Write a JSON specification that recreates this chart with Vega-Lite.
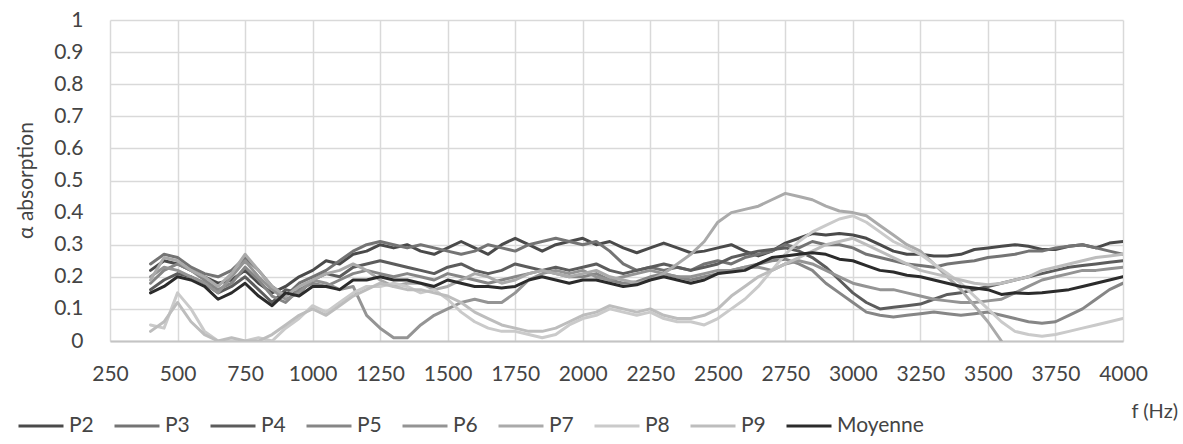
{
  "$schema": "https://vega.github.io/schema/vega-lite/v6.json",
  "width": 1013,
  "height": 321,
  "autosize": {"type": "none"},
  "padding": {"left": 110, "top": 20, "right": 60, "bottom": 103},
  "background": "white",
  "config": {"view": {"stroke": null}, "font": "Lato"},
  "data": {"values": [
    {"f":400,"Moyenne":0.15,"P2":0.22,"P3":0.24,"P4":0.16,"P5":0.18,"P6":0.20,"P7":0.19,"P8":0.05,"P9":0.03},
    {"f":450,"Moyenne":0.17,"P2":0.25,"P3":0.27,"P4":0.19,"P5":0.22,"P6":0.23,"P7":0.26,"P8":0.04,"P9":0.06},
    {"f":500,"Moyenne":0.20,"P2":0.24,"P3":0.26,"P4":0.21,"P5":0.24,"P6":0.22,"P7":0.25,"P8":0.15,"P9":0.12},
    {"f":550,"Moyenne":0.19,"P2":0.22,"P3":0.23,"P4":0.20,"P5":0.22,"P6":0.20,"P7":0.22,"P8":0.10,"P9":0.06},
    {"f":600,"Moyenne":0.17,"P2":0.20,"P3":0.21,"P4":0.18,"P5":0.19,"P6":0.18,"P7":0.20,"P8":0.03,"P9":0.02},
    {"f":650,"Moyenne":0.13,"P2":0.18,"P3":0.20,"P4":0.15,"P5":0.16,"P6":0.15,"P7":0.17,"P8":0.0,"P9":0.0},
    {"f":700,"Moyenne":0.15,"P2":0.19,"P3":0.22,"P4":0.17,"P5":0.18,"P6":0.20,"P7":0.21,"P8":0.0,"P9":0.01},
    {"f":750,"Moyenne":0.18,"P2":0.22,"P3":0.26,"P4":0.20,"P5":0.23,"P6":0.25,"P7":0.27,"P8":0.0,"P9":0.0},
    {"f":800,"Moyenne":0.14,"P2":0.18,"P3":0.22,"P4":0.16,"P5":0.19,"P6":0.20,"P7":0.22,"P8":0.01,"P9":0.0},
    {"f":850,"Moyenne":0.11,"P2":0.15,"P3":0.17,"P4":0.12,"P5":0.14,"P6":0.16,"P7":0.17,"P8":0.0,"P9":0.02},
    {"f":900,"Moyenne":0.15,"P2":0.17,"P3":0.14,"P4":0.16,"P5":0.12,"P6":0.13,"P7":0.14,"P8":0.04,"P9":0.05},
    {"f":950,"Moyenne":0.14,"P2":0.20,"P3":0.18,"P4":0.15,"P5":0.16,"P6":0.15,"P7":0.17,"P8":0.07,"P9":0.08},
    {"f":1000,"Moyenne":0.17,"P2":0.22,"P3":0.20,"P4":0.19,"P5":0.18,"P6":0.19,"P7":0.19,"P8":0.11,"P9":0.10},
    {"f":1050,"Moyenne":0.17,"P2":0.25,"P3":0.22,"P4":0.21,"P5":0.17,"P6":0.18,"P7":0.21,"P8":0.09,"P9":0.08},
    {"f":1100,"Moyenne":0.16,"P2":0.24,"P3":0.25,"P4":0.20,"P5":0.19,"P6":0.16,"P7":0.22,"P8":0.12,"P9":0.11},
    {"f":1150,"Moyenne":0.19,"P2":0.27,"P3":0.28,"P4":0.23,"P5":0.21,"P6":0.17,"P7":0.24,"P8":0.15,"P9":0.14},
    {"f":1200,"Moyenne":0.19,"P2":0.28,"P3":0.30,"P4":0.24,"P5":0.22,"P6":0.08,"P7":0.22,"P8":0.17,"P9":0.16},
    {"f":1250,"Moyenne":0.20,"P2":0.30,"P3":0.31,"P4":0.25,"P5":0.21,"P6":0.04,"P7":0.19,"P8":0.17,"P9":0.18},
    {"f":1300,"Moyenne":0.19,"P2":0.29,"P3":0.30,"P4":0.24,"P5":0.20,"P6":0.01,"P7":0.17,"P8":0.18,"P9":0.17},
    {"f":1350,"Moyenne":0.19,"P2":0.30,"P3":0.29,"P4":0.23,"P5":0.21,"P6":0.01,"P7":0.18,"P8":0.17,"P9":0.16},
    {"f":1400,"Moyenne":0.18,"P2":0.28,"P3":0.30,"P4":0.22,"P5":0.20,"P6":0.05,"P7":0.18,"P8":0.15,"P9":0.16},
    {"f":1450,"Moyenne":0.17,"P2":0.27,"P3":0.29,"P4":0.21,"P5":0.19,"P6":0.08,"P7":0.16,"P8":0.16,"P9":0.15},
    {"f":1500,"Moyenne":0.19,"P2":0.29,"P3":0.28,"P4":0.23,"P5":0.21,"P6":0.10,"P7":0.17,"P8":0.13,"P9":0.14},
    {"f":1550,"Moyenne":0.18,"P2":0.31,"P3":0.27,"P4":0.24,"P5":0.20,"P6":0.12,"P7":0.19,"P8":0.09,"P9":0.12},
    {"f":1600,"Moyenne":0.17,"P2":0.29,"P3":0.28,"P4":0.22,"P5":0.19,"P6":0.13,"P7":0.21,"P8":0.06,"P9":0.09},
    {"f":1650,"Moyenne":0.17,"P2":0.27,"P3":0.30,"P4":0.21,"P5":0.18,"P6":0.12,"P7":0.20,"P8":0.04,"P9":0.07},
    {"f":1700,"Moyenne":0.165,"P2":0.30,"P3":0.29,"P4":0.22,"P5":0.19,"P6":0.12,"P7":0.18,"P8":0.03,"P9":0.05},
    {"f":1750,"Moyenne":0.17,"P2":0.32,"P3":0.28,"P4":0.24,"P5":0.20,"P6":0.15,"P7":0.19,"P8":0.03,"P9":0.04},
    {"f":1800,"Moyenne":0.19,"P2":0.30,"P3":0.30,"P4":0.23,"P5":0.21,"P6":0.19,"P7":0.21,"P8":0.02,"P9":0.03},
    {"f":1850,"Moyenne":0.20,"P2":0.28,"P3":0.31,"P4":0.22,"P5":0.22,"P6":0.21,"P7":0.22,"P8":0.01,"P9":0.03},
    {"f":1900,"Moyenne":0.19,"P2":0.30,"P3":0.32,"P4":0.23,"P5":0.21,"P6":0.22,"P7":0.21,"P8":0.02,"P9":0.04},
    {"f":1950,"Moyenne":0.18,"P2":0.31,"P3":0.31,"P4":0.22,"P5":0.20,"P6":0.21,"P7":0.20,"P8":0.05,"P9":0.06},
    {"f":2000,"Moyenne":0.19,"P2":0.32,"P3":0.30,"P4":0.23,"P5":0.20,"P6":0.22,"P7":0.21,"P8":0.07,"P9":0.08},
    {"f":2050,"Moyenne":0.19,"P2":0.30,"P3":0.31,"P4":0.24,"P5":0.21,"P6":0.20,"P7":0.22,"P8":0.08,"P9":0.09},
    {"f":2100,"Moyenne":0.18,"P2":0.31,"P3":0.28,"P4":0.22,"P5":0.19,"P6":0.19,"P7":0.20,"P8":0.10,"P9":0.11},
    {"f":2150,"Moyenne":0.17,"P2":0.29,"P3":0.24,"P4":0.21,"P5":0.18,"P6":0.20,"P7":0.19,"P8":0.09,"P9":0.10},
    {"f":2200,"Moyenne":0.175,"P2":0.275,"P3":0.22,"P4":0.22,"P5":0.185,"P6":0.21,"P7":0.18,"P8":0.08,"P9":0.09},
    {"f":2250,"Moyenne":0.19,"P2":0.29,"P3":0.23,"P4":0.23,"P5":0.20,"P6":0.22,"P7":0.19,"P8":0.09,"P9":0.10},
    {"f":2300,"Moyenne":0.20,"P2":0.305,"P3":0.22,"P4":0.24,"P5":0.21,"P6":0.21,"P7":0.21,"P8":0.07,"P9":0.08},
    {"f":2350,"Moyenne":0.19,"P2":0.29,"P3":0.23,"P4":0.23,"P5":0.20,"P6":0.20,"P7":0.24,"P8":0.06,"P9":0.07},
    {"f":2400,"Moyenne":0.18,"P2":0.275,"P3":0.22,"P4":0.22,"P5":0.19,"P6":0.20,"P7":0.27,"P8":0.06,"P9":0.07},
    {"f":2450,"Moyenne":0.19,"P2":0.28,"P3":0.24,"P4":0.23,"P5":0.20,"P6":0.21,"P7":0.31,"P8":0.05,"P9":0.08},
    {"f":2500,"Moyenne":0.21,"P2":0.29,"P3":0.25,"P4":0.24,"P5":0.21,"P6":0.22,"P7":0.37,"P8":0.07,"P9":0.10},
    {"f":2550,"Moyenne":0.215,"P2":0.30,"P3":0.24,"P4":0.26,"P5":0.22,"P6":0.22,"P7":0.40,"P8":0.10,"P9":0.14},
    {"f":2600,"Moyenne":0.22,"P2":0.28,"P3":0.26,"P4":0.27,"P5":0.23,"P6":0.23,"P7":0.41,"P8":0.13,"P9":0.17},
    {"f":2650,"Moyenne":0.24,"P2":0.265,"P3":0.27,"P4":0.28,"P5":0.24,"P6":0.23,"P7":0.42,"P8":0.17,"P9":0.20},
    {"f":2700,"Moyenne":0.26,"P2":0.28,"P3":0.28,"P4":0.285,"P5":0.25,"P6":0.22,"P7":0.44,"P8":0.22,"P9":0.22},
    {"f":2750,"Moyenne":0.265,"P2":0.305,"P3":0.30,"P4":0.29,"P5":0.255,"P6":0.24,"P7":0.46,"P8":0.27,"P9":0.24},
    {"f":2800,"Moyenne":0.27,"P2":0.32,"P3":0.29,"P4":0.28,"P5":0.24,"P6":0.25,"P7":0.45,"P8":0.31,"P9":0.26},
    {"f":2850,"Moyenne":0.275,"P2":0.335,"P3":0.31,"P4":0.26,"P5":0.22,"P6":0.24,"P7":0.44,"P8":0.34,"P9":0.28},
    {"f":2900,"Moyenne":0.27,"P2":0.33,"P3":0.30,"P4":0.23,"P5":0.18,"P6":0.22,"P7":0.42,"P8":0.36,"P9":0.30},
    {"f":2950,"Moyenne":0.255,"P2":0.335,"P3":0.30,"P4":0.19,"P5":0.15,"P6":0.20,"P7":0.405,"P8":0.38,"P9":0.31},
    {"f":3000,"Moyenne":0.25,"P2":0.33,"P3":0.29,"P4":0.15,"P5":0.12,"P6":0.18,"P7":0.40,"P8":0.39,"P9":0.32},
    {"f":3050,"Moyenne":0.235,"P2":0.32,"P3":0.27,"P4":0.12,"P5":0.09,"P6":0.17,"P7":0.39,"P8":0.37,"P9":0.30},
    {"f":3100,"Moyenne":0.22,"P2":0.30,"P3":0.26,"P4":0.10,"P5":0.08,"P6":0.16,"P7":0.36,"P8":0.34,"P9":0.28},
    {"f":3150,"Moyenne":0.215,"P2":0.28,"P3":0.25,"P4":0.105,"P5":0.075,"P6":0.16,"P7":0.33,"P8":0.31,"P9":0.26},
    {"f":3200,"Moyenne":0.205,"P2":0.27,"P3":0.24,"P4":0.11,"P5":0.08,"P6":0.15,"P7":0.30,"P8":0.29,"P9":0.24},
    {"f":3250,"Moyenne":0.20,"P2":0.27,"P3":0.235,"P4":0.115,"P5":0.085,"P6":0.14,"P7":0.28,"P8":0.27,"P9":0.22},
    {"f":3300,"Moyenne":0.19,"P2":0.265,"P3":0.23,"P4":0.13,"P5":0.09,"P6":0.13,"P7":0.24,"P8":0.24,"P9":0.21},
    {"f":3350,"Moyenne":0.18,"P2":0.265,"P3":0.24,"P4":0.145,"P5":0.085,"P6":0.125,"P7":0.20,"P8":0.21,"P9":0.20},
    {"f":3400,"Moyenne":0.17,"P2":0.27,"P3":0.245,"P4":0.15,"P5":0.08,"P6":0.12,"P7":0.16,"P8":0.18,"P9":0.19},
    {"f":3450,"Moyenne":0.165,"P2":0.285,"P3":0.25,"P4":0.16,"P5":0.085,"P6":0.12,"P7":0.11,"P8":0.14,"P9":0.18},
    {"f":3500,"Moyenne":0.16,"P2":0.29,"P3":0.26,"P4":0.17,"P5":0.09,"P6":0.125,"P7":0.06,"P8":0.10,"P9":0.175},
    {"f":3550,"Moyenne":0.145,"P2":0.295,"P3":0.265,"P4":0.18,"P5":0.08,"P6":0.13,"P7":0.0,"P8":0.06,"P9":0.18},
    {"f":3600,"Moyenne":0.15,"P2":0.30,"P3":0.27,"P4":0.19,"P5":0.07,"P6":0.15,"P8":0.03,"P9":0.19},
    {"f":3650,"Moyenne":0.148,"P2":0.295,"P3":0.28,"P4":0.20,"P5":0.06,"P6":0.17,"P8":0.02,"P9":0.20},
    {"f":3700,"Moyenne":0.15,"P2":0.285,"P3":0.28,"P4":0.21,"P5":0.055,"P6":0.19,"P8":0.015,"P9":0.22},
    {"f":3750,"Moyenne":0.155,"P2":0.285,"P3":0.29,"P4":0.22,"P5":0.06,"P6":0.20,"P8":0.02,"P9":0.23},
    {"f":3800,"Moyenne":0.16,"P2":0.295,"P3":0.295,"P4":0.23,"P5":0.08,"P6":0.21,"P8":0.03,"P9":0.24},
    {"f":3850,"Moyenne":0.17,"P2":0.30,"P3":0.30,"P4":0.235,"P5":0.10,"P6":0.22,"P8":0.04,"P9":0.25},
    {"f":3900,"Moyenne":0.18,"P2":0.29,"P3":0.29,"P4":0.24,"P5":0.13,"P6":0.22,"P8":0.05,"P9":0.26},
    {"f":3950,"Moyenne":0.19,"P2":0.305,"P3":0.28,"P4":0.245,"P5":0.16,"P6":0.225,"P8":0.06,"P9":0.265},
    {"f":4000,"Moyenne":0.20,"P2":0.31,"P3":0.27,"P4":0.25,"P5":0.18,"P6":0.23,"P8":0.07,"P9":0.27}
  ]},
  "transform": [
    {"fold": ["P2","P3","P4","P5","P6","P7","P8","P9","Moyenne"], "as": ["serie","alpha"]}
  ],
  "mark": {"type": "line", "clip": true, "strokeJoin": "round", "strokeCap": "round"},
  "encoding": {
    "x": {
      "field": "f", "type": "quantitative",
      "scale": {"domain": [250, 4000], "nice": false, "zero": false},
      "axis": {
        "values": [250,500,750,1000,1250,1500,1750,2000,2250,2500,2750,3000,3250,3500,3750,4000],
        "format": "d",
        "grid": true, "gridColor": "#d9d9d9", "gridWidth": 1.5,
        "domainColor": "#c4c4c4", "domainWidth": 2, "ticks": false,
        "labelFont": "Lato", "labelFontSize": 21, "labelColor": "#444444", "labelPadding": 22,
        "labelFlush": false, "labelOverlap": false,
        "title": "f (Hz)", "titleFont": "Lato", "titleFontSize": 20, "titleFontWeight": "normal",
        "titleColor": "#444444", "titleX": 1021, "titleY": 70, "titleAlign": "left", "titleBaseline": "middle", "titleAnchor": null
      }
    },
    "y": {
      "field": "alpha", "type": "quantitative",
      "scale": {"domain": [0, 1], "nice": false},
      "axis": {
        "values": [0,0.1,0.2,0.3,0.4,0.5,0.6,0.7,0.8,0.9,1],
        "format": ".1~f",
        "grid": true, "gridColor": "#d9d9d9", "gridWidth": 1.5,
        "domain": false, "ticks": false,
        "labelFont": "Lato", "labelFontSize": 21, "labelColor": "#444444", "labelPadding": 27,
        "labelFlush": false, "labelOverlap": false,
        "title": "α absorption", "titleFont": "Lato", "titleFontSize": 21, "titleFontWeight": "normal",
        "titleColor": "#444444", "titleX": -84, "titleY": 160, "titleAngle": 270, "titleAlign": "center", "titleBaseline": "middle"
      }
    },
    "color": {
      "field": "serie", "type": "nominal",
      "scale": {
        "domain": ["P2","P3","P4","P5","P6","P7","P8","P9","Moyenne"],
        "range": ["#4a4a4a","#747474","#5c5c5c","#868686","#949494","#aaaaaa","#cacaca","#bdbdbd","#2b2b2b"]
      },
      "legend": {
        "orient": "none", "legendX": -93, "legendY": 382, "direction": "horizontal", "title": null,
        "symbolType": "stroke", "symbolSize": 2025, "symbolStrokeWidth": 3,
        "labelFont": "Lato", "labelFontSize": 21, "labelColor": "#444444", "labelOffset": 4,
        "columnPadding": 14, "padding": 0
      }
    },
    "strokeWidth": {
      "field": "serie", "type": "ordinal",
      "scale": {
        "domain": ["P2","P3","P4","P5","P6","P7","P8","P9","Moyenne"],
        "range": [3,3,3,3,3,3,3,3,5]
      }
    }
  }
}
